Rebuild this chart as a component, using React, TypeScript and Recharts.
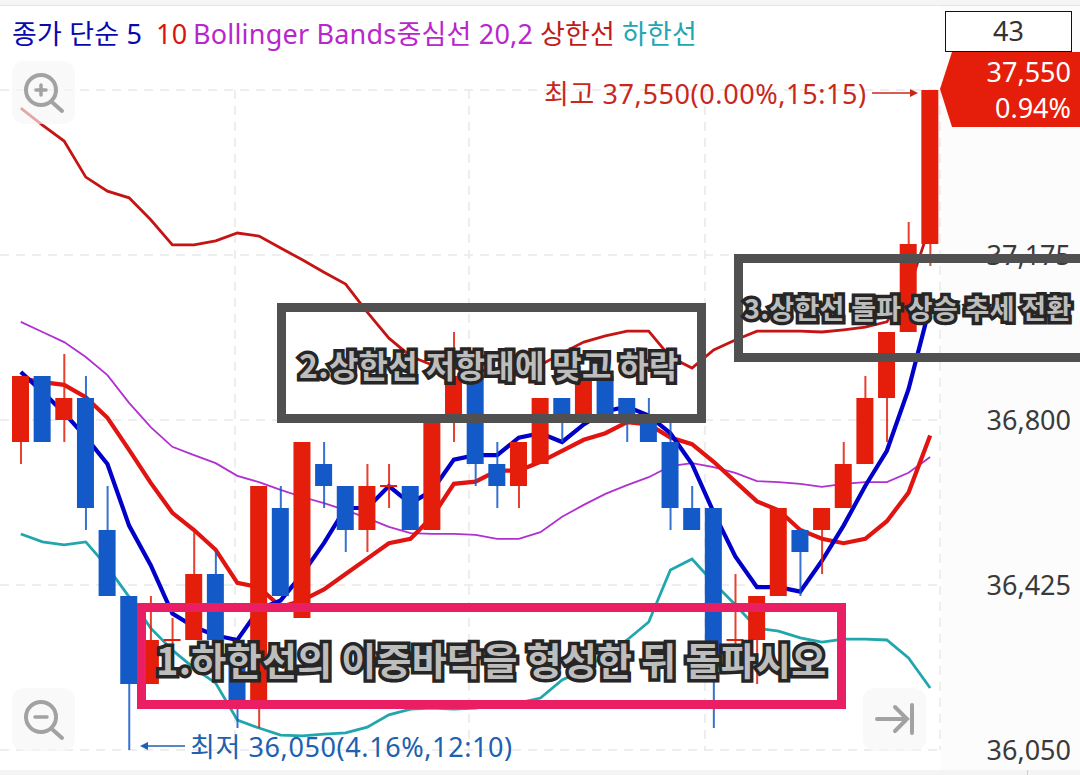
import React from "react";
import { ComposedChart, Bar, Line, XAxis, YAxis, CartesianGrid } from "recharts";

const FONT = "'Noto Sans', 'Noto Sans CJK KR', sans-serif";

const UP = "#e41e0a";
const DOWN = "#1459c8";

const TIMES = [
  "11:45", "11:50", "11:55", "12:00", "12:05", "12:10", "12:15", "12:20", "12:25", "12:30", "12:35",
  "12:40", "12:45", "12:50", "12:55", "13:00", "13:05", "13:10", "13:15", "13:20", "13:25", "13:30",
  "13:35", "13:40", "13:45", "13:50", "13:55", "14:00", "14:05", "14:10", "14:15", "14:20", "14:25",
  "14:30", "14:35", "14:40", "14:45", "14:50", "14:55", "15:00", "15:05", "15:10", "15:15",
];

const OPENS = [
  36750, 36900, 36800, 36850, 36550, 36400, 36200, 36300, 36300, 36450, 36250,
  36150, 36600, 36350, 36700, 36650, 36550, 36650, 36650, 36550, 36800, 36900,
  36700, 36650, 36700, 36850, 36800, 36900, 36850, 36800, 36750, 36600, 36600,
  36300, 36300, 36400, 36550, 36550, 36600, 36700, 36850, 37000, 37200,
];
const CLOSES = [
  36900, 36750, 36850, 36600, 36400, 36200, 36300, 36300, 36450, 36300, 36150,
  36650, 36400, 36750, 36650, 36550, 36650, 36650, 36550, 36800, 36900, 36700,
  36650, 36750, 36850, 36800, 36900, 36800, 36800, 36750, 36600, 36550, 36250,
  36300, 36400, 36600, 36500, 36600, 36700, 36850, 37000, 37200, 37550,
];
const HIGHS = [
  36900, 36900, 36950, 36900, 36650, 36400, 36400, 36350, 36550, 36500, 36250,
  36650, 36650, 36750, 36750, 36650, 36700, 36700, 36650, 36800, 37000, 36900,
  36750, 36750, 36850, 36850, 36900, 36900, 36850, 36850, 36800, 36650, 36600,
  36450, 36400, 36600, 36550, 36600, 36750, 36900, 37000, 37250, 37550,
];
const LOWS = [
  36700, 36750, 36750, 36550, 36400, 36050, 36200, 36250, 36300, 36300, 36100,
  36100, 36400, 36350, 36600, 36500, 36500, 36600, 36550, 36550, 36750, 36650,
  36600, 36600, 36700, 36750, 36800, 36800, 36750, 36750, 36550, 36550, 36100,
  36250, 36200, 36400, 36400, 36450, 36600, 36700, 36750, 37000, 37150,
];

const MA5 = [
  36909, 36864, 36816, 36761, 36700, 36560, 36470, 36360, 36330, 36310, 36300,
  36370, 36390, 36450, 36520, 36600, 36600, 36650, 36610, 36640, 36710, 36720,
  36720, 36760, 36770, 36750, 36790, 36820, 36830, 36810, 36770, 36700, 36590,
  36490, 36420, 36420, 36410, 36480, 36560, 36650, 36730, 36870, 37060,
];
const MA10 = [
  36895, 36886, 36880, 36852, 36805, 36732, 36657, 36589, 36550, 36505, 36430,
  36420, 36375, 36390, 36415, 36450, 36485, 36520, 36530, 36580, 36655, 36660,
  36685, 36685, 36705, 36730, 36755, 36770, 36795, 36790, 36760, 36745, 36705,
  36660, 36615, 36595, 36550, 36530, 36520, 36530, 36570, 36635, 36765,
];
const BB_MID = [
  37023, 37000, 36977, 36943, 36902, 36839, 36784, 36739, 36720, 36702, 36673,
  36659, 36641, 36625, 36611, 36595, 36577, 36557, 36543, 36541, 36541, 36539,
  36530, 36530, 36545, 36580, 36607, 36632, 36652, 36670, 36695, 36702, 36693,
  36680, 36661, 36659, 36655, 36648, 36655, 36659, 36659, 36680, 36716,
];
const BB_UPPER = [
  37509, 37470, 37434, 37352, 37320, 37305, 37255, 37198, 37198, 37207, 37225,
  37218, 37191, 37164, 37136, 37109, 37045, 36986, 36945, 36925, 36918, 36918,
  36902, 36902, 36925, 36952, 36977, 36991, 37002, 37002, 36943, 36918, 36959,
  36982, 37002, 37002, 37002, 37000, 37005, 37011, 37023, 37095, 37243,
];
const BB_LOWER = [
  36541, 36523, 36516, 36523, 36466, 36398, 36327, 36277, 36236, 36202, 36118,
  36100, 36084, 36082, 36086, 36089, 36102, 36130, 36143, 36145, 36143, 36145,
  36152, 36157, 36168, 36209, 36232, 36266, 36300, 36341, 36459, 36484, 36430,
  36380, 36327, 36320, 36305, 36295, 36302, 36302, 36300, 36259, 36191,
];

const Y_TICKS = [36050, 36425, 36800, 37175, 37550];

const rows = TIMES.map((time, i) => ({
  time,
  range: [LOWS[i], HIGHS[i]],
  body: [Math.min(OPENS[i], CLOSES[i]), Math.max(OPENS[i], CLOSES[i])],
  up: CLOSES[i] >= OPENS[i],
  ma5: MA5[i],
  ma10: MA10[i],
  mid: BB_MID[i],
  upper: BB_UPPER[i],
  lower: BB_LOWER[i],
}));

function WickRect({ x, y, width, height, payload }: any) {
  return <rect x={x} y={y} width={width} height={height} fill={payload.up ? UP : DOWN} opacity={0.85} />;
}

function BodyRect({ x, y, width, height, payload }: any) {
  return (
    <rect
      x={x}
      y={y - (height < 2 ? 1 : 0)}
      width={width}
      height={Math.max(height, 2)}
      fill={payload.up ? UP : DOWN}
    />
  );
}

function PriceTick({ x, y, payload }: any) {
  if (payload.value === 37550) return null;
  return (
    <text x={1071} y={y + 10} textAnchor="end" fontSize={27} fontFamily="'Noto Sans', sans-serif" fill="#3a3a3a">
      {payload.value.toLocaleString("en-US")}
    </text>
  );
}

function ZoomButton({ left, top, children }: { left: number; top: number; children: React.ReactNode }) {
  return (
    <svg
      width={63}
      height={63}
      style={{ position: "absolute", left, top, background: "rgba(246,246,246,0.65)", borderRadius: 12 }}
    >
      <g fill="none" stroke="#a2a2a2" strokeLinecap="round">
        {children}
      </g>
    </svg>
  );
}

function Note({ text, left, top, size }: { text: string; left: number; top: number; size: number }) {
  return (
    <div
      style={{
        position: "absolute",
        left,
        top,
        fontSize: size,
        letterSpacing: 0.3,
        fontFamily: "'Noto Sans CJK KR', sans-serif",
        fontWeight: 700,
        lineHeight: 1,
        whiteSpace: "nowrap",
        color: "#bdbdbd",
        WebkitTextStroke: "7px #262626",
        paintOrder: "stroke fill",
      }}
    >
      {text}
    </div>
  );
}

function Frame({ left, top, width, height, color, border }: any) {
  return (
    <div
      style={{
        position: "absolute",
        left,
        top,
        width,
        height,
        boxSizing: "border-box",
        border: `${border}px solid ${color}`,
      }}
    />
  );
}

function Label({ left, top, color, spacing = 0.2, children }: any) {
  return (
    <div
      style={{
        position: "absolute",
        left,
        top,
        color,
        fontSize: 27,
        letterSpacing: spacing,
        lineHeight: 1,
        whiteSpace: "nowrap",
      }}
    >
      {children}
    </div>
  );
}

export default function App() {
  return (
    <div
      style={{
        position: "absolute",
        left: 0,
        top: 0,
        width: 1080,
        height: 775,
        overflow: "hidden",
        background: "#fff",
        fontFamily: FONT,
      }}
    >
      <div style={{ position: "absolute", left: 0, top: 0, width: 1080, height: 5, background: "#f5f5f5", borderBottom: "1px solid #e4e4e4" }} />
      <div style={{ position: "absolute", left: 941, top: 6, width: 139, height: 764, background: "#fcfcfc" }} />
      <div style={{ position: "absolute", left: 0, top: 770, width: 1080, height: 5, background: "#f4f4f4" }} />
      <div style={{ position: "absolute", left: 1027, top: 770, width: 1, height: 5, background: "#cfcfcf" }} />

      <div style={{ position: "absolute", left: 0, top: 0 }}>
        <ComposedChart width={1080} height={775} data={rows} margin={{ top: 90, right: 0, bottom: 25, left: 0 }} barGap={0}>
          <CartesianGrid
            stroke="#e9e9e9"
            strokeWidth={1.5}
            strokeDasharray="9 7"
            verticalPoints={[235, 469, 705, 940]}
            xAxisId="body"
          />
          <XAxis xAxisId="body" dataKey="time" hide padding={{ left: 10, right: 0 }} />
          <XAxis xAxisId="wick" dataKey="time" hide padding={{ left: 10, right: 0 }} />
          <YAxis
            orientation="right"
            width={139}
            domain={[36050, 37550]}
            ticks={Y_TICKS}
            tick={<PriceTick />}
            tickLine={false}
            axisLine={false}
            interval={0}
          />
          <Line xAxisId="body" dataKey="mid" stroke="#b030d0" strokeWidth={1.8} dot={false} isAnimationActive={false} />
          <Line xAxisId="body" dataKey="upper" stroke="#c41414" strokeWidth={2.8} dot={false} isAnimationActive={false} />
          <Line xAxisId="body" dataKey="lower" stroke="#22a6ae" strokeWidth={2.8} dot={false} isAnimationActive={false} />
          <Line xAxisId="body" dataKey="ma10" stroke="#e01410" strokeWidth={4.2} dot={false} isAnimationActive={false} />
          <Line xAxisId="body" dataKey="ma5" stroke="#0000c8" strokeWidth={4.2} dot={false} isAnimationActive={false} />
          <Bar xAxisId="wick" dataKey="range" barSize={2} shape={<WickRect />} isAnimationActive={false} zIndex={500} />
          <Bar xAxisId="body" dataKey="body" barSize={17} shape={<BodyRect />} isAnimationActive={false} zIndex={510} />
        </ComposedChart>
      </div>

      <Label left={12} top={20} color="#0808b0">종가 단순 5</Label>
      <Label left={156} top={20} color="#d81410">10</Label>
      <Label left={193} top={20} color="#b826cc">Bollinger Bands중심선 20,2</Label>
      <Label left={540} top={20} color="#c01c1c">상한선</Label>
      <Label left={622} top={20} color="#22a6b4">하한선</Label>

      <Label left={544} top={80} color="#c8281c" spacing={0.6}>최고 37,550(0.00%,15:15)</Label>
      <Label left={190} top={733} color="#2060b0" spacing={0.6}>최저 36,050(4.16%,12:10)</Label>

      <svg width={1080} height={775} style={{ position: "absolute", left: 0, top: 0 }}>
        <path d="M872 93H916" stroke="#c8281c" strokeWidth={1.5} />
        <path d="M918 93l-8 -4v8z" fill="#c8281c" />
        <path d="M185 746H142" stroke="#2060b0" strokeWidth={1.5} />
        <path d="M140 746l8 -4v8z" fill="#2060b0" />
        <path d="M952 52H1080V127H952L940 89z" fill={UP} />
      </svg>

      <div
        style={{
          position: "absolute",
          left: 945,
          top: 11,
          width: 127,
          height: 41,
          boxSizing: "border-box",
          border: "1.5px solid #111",
          background: "#fff",
          color: "#333",
          fontSize: 27,
          lineHeight: "38px",
          textAlign: "center",
        }}
      >
        43
      </div>
      <div
        style={{
          position: "absolute",
          right: 9,
          top: 54,
          color: "#fff",
          fontSize: 27,
          lineHeight: "36px",
          textAlign: "right",
        }}
      >
        37,550
        <br />
        0.94%
      </div>

      <ZoomButton left={12} top={61}>
        <circle cx={29} cy={29} r={15} strokeWidth={4} />
        <path d="M41 42L50 50" strokeWidth={4} />
        <path d="M24 29H34M29 24V34" strokeWidth={3.5} />
      </ZoomButton>
      <ZoomButton left={12} top={688}>
        <circle cx={29} cy={29} r={15} strokeWidth={4} />
        <path d="M41 42L50 50" strokeWidth={4} />
        <path d="M23 29H35" strokeWidth={3.5} />
      </ZoomButton>
      <ZoomButton left={863} top={688}>
        <path d="M14 31H44M32 19L44 31L32 43" strokeWidth={4} />
        <path d="M49 17V45" strokeWidth={4} />
      </ZoomButton>

      <Frame left={137} top={603} width={709} height={106} color="#e91e63" border={9.5} />
      <Frame left={277} top={303} width={429} height={120} color="#505050" border={9.5} />
      <Frame left={734} top={254} width={360} height={108} color="#505050" border={9.5} />

      <Note text="1.하한선의 이중바닥을 형성한 뒤 돌파시오" left={156} top={640} size={38} />
      <Note text="2.상한선 저항대에 맞고 하락" left={299} top={348} size={32} />
      <Note text="3.상한선 돌파 상승 추세 전환" left={744} top={294} size={27} />
    </div>
  );
}
